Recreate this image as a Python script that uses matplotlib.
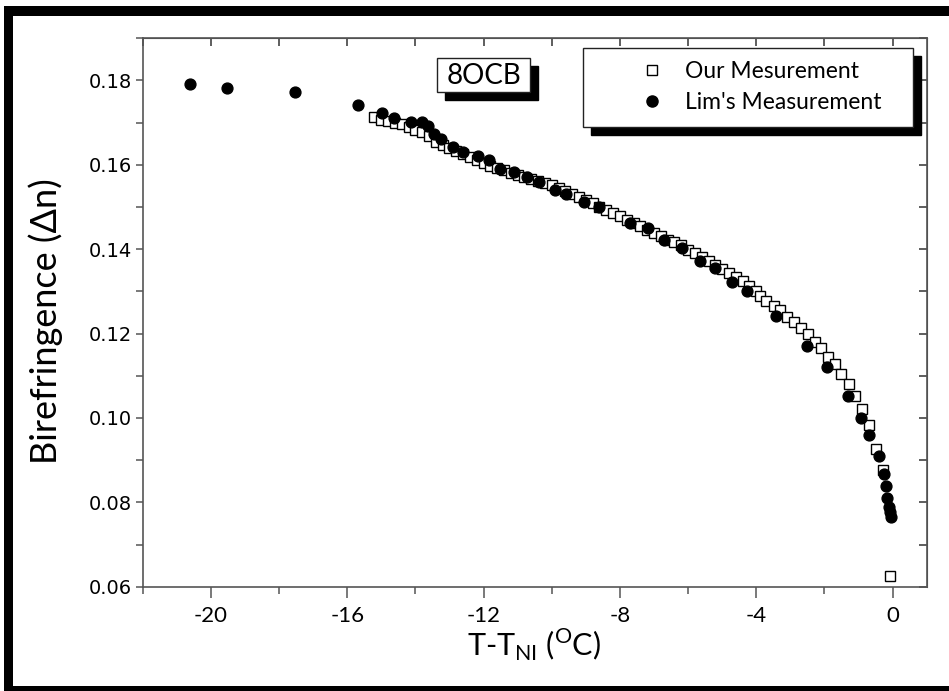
import matplotlib
matplotlib.use("Agg")
import matplotlib.pyplot as plt
from matplotlib.patches import Rectangle
from matplotlib.ticker import MultipleLocator, FixedLocator

# ---------------- data ----------------
our_x = [-15.2, -15.0, -14.8, -14.6, -14.4, -14.2, -14.0, -13.8, -13.6, -13.4,
         -13.2, -13.0, -12.8, -12.6, -12.4, -12.2, -12.0, -11.8, -11.6, -11.4,
         -11.2, -11.0, -10.8, -10.6, -10.4, -10.2, -10.0, -9.8, -9.6, -9.4,
         -9.2, -9.0, -8.8, -8.6, -8.4, -8.2, -8.0, -7.8, -7.6, -7.4,
         -7.2, -7.0, -6.8, -6.6, -6.4, -6.2, -6.0, -5.8, -5.6, -5.4,
         -5.2, -5.0, -4.8, -4.6, -4.4, -4.2, -4.0, -3.9, -3.71, -3.49,
         -3.30, -3.10, -2.89, -2.68, -2.48, -2.29, -2.09, -1.89, -1.70, -1.51,
         -1.29, -1.09, -0.90, -0.70, -0.49, -0.29, -0.09]
our_y = [0.1713, 0.1707, 0.1703, 0.1700, 0.1697, 0.1689, 0.1683, 0.1677, 0.1669, 0.1655,
         0.1647, 0.1640, 0.1633, 0.1625, 0.1618, 0.1611, 0.1604, 0.1598, 0.1592, 0.1587,
         0.1581, 0.1576, 0.1571, 0.1566, 0.1561, 0.1557, 0.1553, 0.1545, 0.1538, 0.1531,
         0.1523, 0.1516, 0.1509, 0.1501, 0.1493, 0.1486, 0.1479, 0.1470, 0.1462, 0.1454,
         0.1446, 0.1439, 0.1432, 0.1423, 0.1416, 0.1409, 0.1399, 0.1390, 0.1381, 0.1372,
         0.1363, 0.1354, 0.1344, 0.1334, 0.1324, 0.1313, 0.1302, 0.1290, 0.1278, 0.1266,
         0.1255, 0.1240, 0.1227, 0.1213, 0.1199, 0.1181, 0.1165, 0.1145, 0.1127, 0.1104,
         0.1080, 0.1052, 0.1021, 0.0983, 0.0926, 0.0877, 0.0626]

lim_x = [-20.6, -19.53, -17.54, -15.68, -14.97, -14.63, -14.13, -13.82, -13.64, -13.44,
         -13.25, -12.89, -12.61, -12.17, -11.85, -11.53, -11.12, -10.72, -10.36, -9.90,
         -9.58, -9.06, -8.62, -7.70, -7.19, -6.72, -6.17, -5.66, -5.22, -4.71,
         -4.27, -3.41, -2.51, -1.92, -1.30, -0.93, -0.70, -0.41, -0.26, -0.19,
         -0.15, -0.11, -0.08, -0.04]
lim_y = [0.1791, 0.1781, 0.1772, 0.1742, 0.1722, 0.1711, 0.1701, 0.1701, 0.1691, 0.1674,
         0.1661, 0.1642, 0.1630, 0.1621, 0.1611, 0.1591, 0.1582, 0.1571, 0.1560, 0.1541,
         0.1531, 0.1512, 0.1501, 0.1462, 0.1451, 0.1421, 0.1402, 0.1371, 0.1355, 0.1322,
         0.1300, 0.1242, 0.1171, 0.1121, 0.1051, 0.1001, 0.0960, 0.0909, 0.0868, 0.0838,
         0.0810, 0.0790, 0.0777, 0.0765]

x_ticks = [-20, -16, -12, -8, -4, 0]
y_ticks = [0.06, 0.08, 0.10, 0.12, 0.14, 0.16, 0.18]
our_label = "Our Mesurement"
lim_label = "Lim's Measurement"
sample_label = "8OCB"

# ---------------- figure ----------------
W, H = 949, 691
fig = plt.figure(figsize=(W / 100, H / 100), dpi=100)
fig.patch.set_facecolor("white")
plt.rcParams["mathtext.fontset"] = "custom"
plt.rcParams["mathtext.rm"] = "Lato"


def fx(px):
    return px / W


def fy(py):
    return 1 - py / H


ax_l, ax_r, ax_t, ax_b = 142.7, 926.7, 38.3, 586.7
ax_w = ax_r - ax_l
ax_h = ax_b - ax_t
ax = fig.add_axes([fx(ax_l), fy(ax_b), ax_w / W, ax_h / H])

axis_col = "#555555"
for s in ax.spines.values():
    s.set_color(axis_col)
    s.set_linewidth(1.2)

l_our, = ax.plot(our_x, our_y, linestyle="none", marker="s", markersize=6.6,
                 markerfacecolor="white", markeredgecolor="black", markeredgewidth=1.0,
                 label=our_label, zorder=3)
l_lim, = ax.plot(lim_x, lim_y, linestyle="none", marker="o", markersize=7.8,
                 markerfacecolor="black", markeredgecolor="black",
                 label=lim_label, zorder=4)

ax.set_xlim(-22, 1.0)
ax.set_ylim(0.06, 0.19)

ax.xaxis.set_major_locator(FixedLocator(x_ticks))
ax.xaxis.set_minor_locator(MultipleLocator(2))
ax.yaxis.set_major_locator(FixedLocator(y_ticks))
ax.yaxis.set_minor_locator(MultipleLocator(0.01))
ax.set_xticklabels([str(v) for v in x_ticks])
ax.set_yticklabels(["%.2f" % v for v in y_ticks])

ax.tick_params(axis="both", which="both", direction="out", color=axis_col,
               width=1.1, top=False, right=False)
ax.tick_params(axis="x", which="major", length=8, pad=6)
ax.tick_params(axis="x", which="minor", length=5)
ax.tick_params(axis="y", which="major", length=5, pad=3)
ax.tick_params(axis="y", which="minor", length=5)

for lab in ax.get_xticklabels():
    lab.set_fontfamily(["Lato"])
    lab.set_fontsize(16)
for lab in ax.get_yticklabels():
    lab.set_fontfamily(["DejaVu Sans"])
    lab.set_fontsize(14)

# inner ticks on top and right
axt = ax.secondary_xaxis("top")
axt.xaxis.set_major_locator(MultipleLocator(2))
axt.tick_params(direction="in", length=6, color="#333333", width=1.1, labeltop=False)
axr = ax.secondary_yaxis("right")
axr.yaxis.set_major_locator(MultipleLocator(0.01))
axr.tick_params(direction="in", length=6, color="#333333", width=1.1, labelright=False)
axt.spines["top"].set_color("#444444")
axr.spines["right"].set_color("#444444")

ax.set_xlabel(r"T-T$_{\mathrm{NI}}$ ($^{\mathrm{O}}$C)", fontfamily="Lato", fontsize=22)
ax.xaxis.set_label_coords((534 - ax_l) / ax_w, (ax_b - 627) / ax_h)
ax.set_ylabel("Birefringence (\u0394n)", fontfamily="Lato", fontsize=26)
ax.yaxis.set_label_coords((63 - ax_l) / ax_w, (ax_b - 321) / ax_h)

sh = 8
# sample label box with black shadow
bx0, by0, bx1, by1 = 437, 58, 530, 92
fig.patches.append(Rectangle((fx(bx0 + sh), fy(by1 + sh)), (bx1 - bx0) / W, (by1 - by0) / H,
                             transform=fig.transFigure, facecolor="black", edgecolor="black",
                             zorder=5))
fig.patches.append(Rectangle((fx(bx0), fy(by1)), (bx1 - bx0) / W, (by1 - by0) / H,
                             transform=fig.transFigure, facecolor="white", edgecolor="#222222",
                             linewidth=1.0, zorder=6))
fig.text(fx((bx0 + bx1) / 2), fy((by0 + by1) / 2 + 1), sample_label, ha="center", va="center",
         fontfamily="Lato", fontsize=20, zorder=7)

# legend box with black shadow
lx0, ly0, lx1, ly1 = 583, 48, 913, 127
fig.patches.append(Rectangle((fx(lx0 + sh), fy(ly1 + sh)), (lx1 - lx0) / W, (ly1 - ly0) / H,
                             transform=fig.transFigure, facecolor="black", edgecolor="black",
                             zorder=5))
fig.patches.append(Rectangle((fx(lx0), fy(ly1)), (lx1 - lx0) / W, (ly1 - ly0) / H,
                             transform=fig.transFigure, facecolor="white", edgecolor="#222222",
                             linewidth=1.0, zorder=6))
leg = fig.legend(handles=[l_our, l_lim], labels=[our_label, lim_label],
                 loc="upper left", bbox_to_anchor=(fx(640.5), fy(61)),
                 bbox_transform=fig.transFigure, frameon=False,
                 borderpad=0, borderaxespad=0, handlelength=1.0, handletextpad=0.95,
                 labelspacing=0.45, prop={"family": "Lato", "size": 16.5})
leg.set_zorder(7)
for h in leg.legend_handles:
    if h.get_marker() == "s":
        h.set_markersize(6.5)
    else:
        h.set_markersize(8)

# figure border
bc = "black"
fig.patches.append(Rectangle((fx(4), fy(691)), 9 / W, 685 / H, transform=fig.transFigure,
                             facecolor=bc, edgecolor="none", zorder=10))
fig.patches.append(Rectangle((fx(4), fy(16)), 945 / W, 10 / H, transform=fig.transFigure,
                             facecolor=bc, edgecolor="none", zorder=10))
fig.patches.append(Rectangle((fx(4), fy(691)), 945 / W, 5 / H, transform=fig.transFigure,
                             facecolor=bc, edgecolor="none", zorder=10))

fig.savefig("out.png", dpi=100)
